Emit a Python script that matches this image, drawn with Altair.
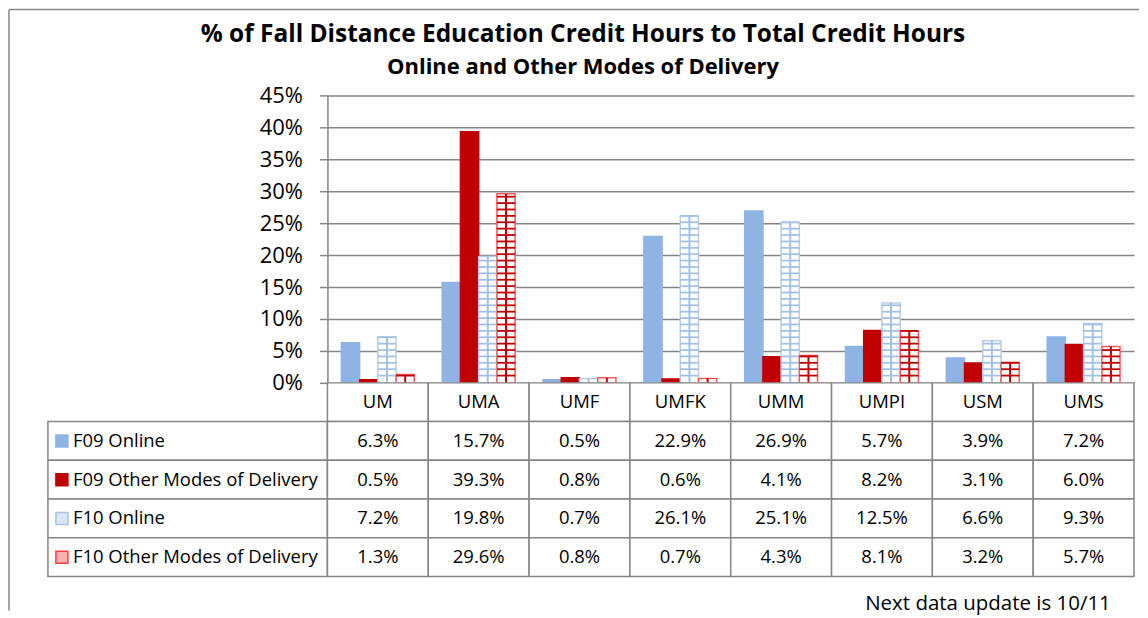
import altair as alt
import pandas as pd

# ---------------- data ----------------
categories = ["UM", "UMA", "UMF", "UMFK", "UMM", "UMPI", "USM", "UMS"]
series = ["F09  Online", "F09 Other Modes of Delivery", "F10  Online", "F10 Other Modes of Delivery"]
f09_online = [6.3, 15.7, 0.5, 22.9, 26.9, 5.7, 3.9, 7.2]
f09_other = [0.5, 39.3, 0.8, 0.6, 4.1, 8.2, 3.1, 6.0]
f10_online = [7.2, 19.8, 0.7, 26.1, 25.1, 12.5, 6.6, 9.3]
f10_other = [1.3, 29.6, 0.8, 0.7, 4.3, 8.1, 3.2, 5.7]
y_ticks = [0, 5, 10, 15, 20, 25, 30, 35, 40, 45]
title_text = "% of  Fall Distance Education Credit Hours to Total Credit Hours"
subtitle_text = "Online and Other Modes of Delivery"
footer_text = "Next data update is 10/11"

# ---------------- styles ----------------
FONT = "Open Sans"
GRID = "#868686"
fills = ["#8eb4e3", "#c00000", "#ffffff", "#ffffff"]
strokes = ["#8eb4e3", "#c00000", "#b9cde5", "#ff5a5a"]
hatch_colors = {series[2]: "#a3c1e6", series[3]: "#c00000"}
key_fills = ["#8eb4e3", "#c00000", "#dbe6f4", "#ffb0b0"]
key_strokes = ["#8eb4e3", "#c00000", "#a9c4e6", "#ff4040"]

values_by_series = [f09_online, f09_other, f10_online, f10_other]
rows_long = []
for s, vals in zip(series, values_by_series):
    for c, v in zip(categories, vals):
        rows_long.append({"cat": c, "series": s, "value": v})
df = pd.DataFrame(rows_long)

W, H = 808, 288
LABEL_W = 280
TABLE_H = 194
row_keys = ["hdr"] + series

x_enc = alt.X("cat:N", scale=alt.Scale(domain=categories, paddingInner=0, paddingOuter=0), axis=None)
xo_enc = alt.XOffset("series:N", scale=alt.Scale(domain=series, paddingInner=0, paddingOuter=0.767))
y_scale = alt.Scale(domain=[0, 45], nice=False, zero=True)
y_axis = alt.Axis(values=y_ticks, labelExpr="datum.value + '%'", grid=True, gridColor=GRID,
                  gridWidth=1.5, domainColor=GRID, domainWidth=1.5, tickColor=GRID, tickWidth=1.5,
                  tickSize=8, labelFontSize=22, labelFont=FONT, labelColor="black",
                  labelPadding=17, title=None)
fill_scale = alt.Scale(domain=series, range=fills)
stroke_scale = alt.Scale(domain=series, range=strokes)

base = alt.Chart(df)
bars = base.mark_bar(strokeWidth=1.5).encode(
    x=x_enc, xOffset=xo_enc,
    y=alt.Y("value:Q", scale=y_scale, axis=y_axis),
    fill=alt.Fill("series:N", scale=fill_scale, legend=None),
    stroke=alt.Stroke("series:N", scale=stroke_scale, legend=None),
)

layers = [bars]
for s in series[2:]:
    col = hatch_colors[s]
    hl = base.transform_filter(alt.datum.series == s).transform_calculate(
        lv="sequence(1, datum.value)"
    ).transform_flatten(["lv"]).transform_calculate(lv2="datum.lv + 0.28").mark_bar(color=col).encode(
        x=x_enc, xOffset=xo_enc,
        y=alt.Y("lv:Q", scale=y_scale, axis=y_axis), y2="lv2:Q",
    )
    vl = base.transform_filter(alt.datum.series == s).mark_rule(color=col, strokeWidth=2).encode(
        x=x_enc, xOffset=xo_enc,
        y=alt.Y("value:Q", scale=y_scale, axis=y_axis), y2=alt.Y2(datum=0),
    )
    layers += [hl, vl]

bar_chart = alt.layer(*layers).properties(
    width=W, height=H,
    title=alt.TitleParams(text=title_text, subtitle=subtitle_text, font=FONT, fontSize=24.5,
                          fontWeight="bold", color="black", subtitleFont=FONT, subtitleFontSize=22,
                          subtitleFontWeight="bold", subtitleColor="black", subtitlePadding=10,
                          anchor="middle", frame="group", dx=-148, offset=5),
)

# ---------------- frame (blank top-left cell) ----------------
blank_df = pd.DataFrame({"k": [0]})
frame_top = alt.Chart(blank_df).mark_rule(color=GRID, strokeWidth=1.5).encode(
    x=alt.value(-39), x2=alt.value(1093), y=alt.value(-86))
frame_left = alt.Chart(blank_df).mark_rule(color=GRID, strokeWidth=1.5).encode(
    x=alt.value(-39), y=alt.value(-86), y2=alt.value(516))
blank = alt.layer(frame_top, frame_left).properties(width=LABEL_W, height=H)

# ---------------- table: row labels ----------------
y_row = alt.Y("row:N", scale=alt.Scale(domain=row_keys, paddingInner=0, paddingOuter=0), axis=None)
lab_df = pd.DataFrame({"row": series})
lab_base = alt.Chart(lab_df)
lab_cells = lab_base.mark_rect(fill="white", stroke=GRID, strokeWidth=1.5).encode(
    x=alt.value(0), x2=alt.value("width"), y=y_row)
key_layers = []
for s, kf, ks in zip(series, key_fills, key_strokes):
    key_layers.append(
        lab_base.transform_filter(alt.datum.row == s).mark_square(
            size=144, opacity=1, strokeWidth=1.5, fill=kf, stroke=ks
        ).encode(x=alt.value(14), y=y_row)
    )
lab_text = lab_base.mark_text(align="left", baseline="middle", font=FONT, fontSize=18.5, color="black").encode(
    x=alt.value(25), y=y_row, text="row:N")
label_chart = alt.layer(lab_cells, *key_layers, lab_text).properties(width=LABEL_W, height=TABLE_H)

# ---------------- table: values ----------------
cell_rows = []
for c in categories:
    cell_rows.append({"cat": c, "row": "hdr", "txt": c})
for s, vals in zip(series, values_by_series):
    for c, v in zip(categories, vals):
        cell_rows.append({"cat": c, "row": s, "txt": f"{v:.1f}%"})
cell_df = pd.DataFrame(cell_rows)
x_tab = alt.X("cat:N", scale=alt.Scale(domain=categories, paddingInner=0, paddingOuter=0), axis=None)
val_cells = alt.Chart(cell_df).mark_rect(fill="white", stroke=GRID, strokeWidth=1.5).encode(x=x_tab, y=y_row)
val_text = alt.Chart(cell_df).mark_text(font=FONT, fontSize=18.5, color="black", baseline="middle").encode(
    x=x_tab, y=y_row, text="txt:N")
value_chart = alt.layer(val_cells, val_text).properties(
    width=W, height=TABLE_H,
    title=alt.TitleParams(text=footer_text, orient="bottom", anchor="end", font=FONT, fontSize=20.5,
                          fontWeight="normal", color="black", baseline="alphabetic", offset=33, dx=-24),
)

chart = alt.concat(blank, bar_chart, label_chart, value_chart, columns=2, spacing=0, bounds="flush").properties(
    padding=0
).configure_view(stroke=None)

chart.save("out.html", embed_options={"renderer": "svg", "actions": False})
